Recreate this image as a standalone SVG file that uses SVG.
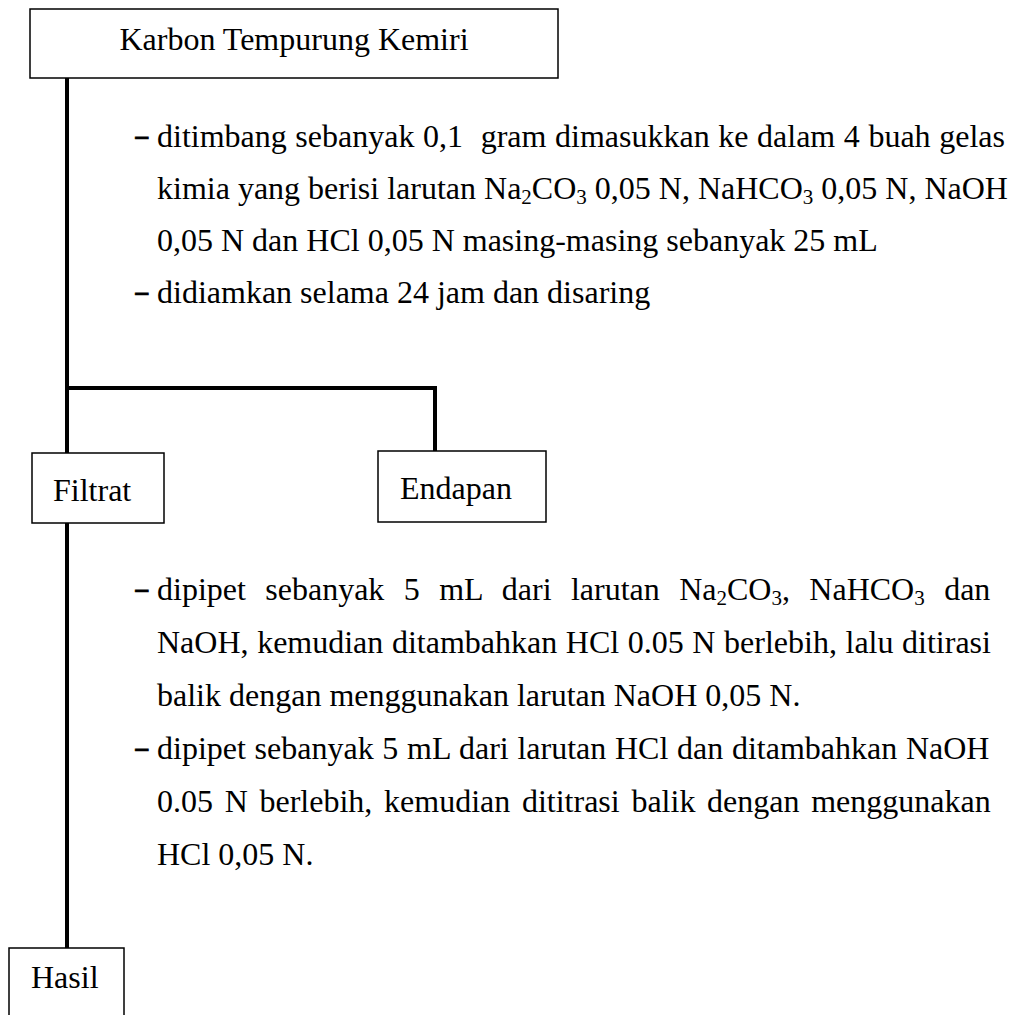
<svg xmlns="http://www.w3.org/2000/svg" width="1018" height="1015" viewBox="0 0 1018 1015">
<style>
.box{fill:#fff;stroke:#000;stroke-width:1.5}
.lbl{font-family:"Liberation Serif","Times New Roman",serif;font-size:32px;fill:#000}
.body{font-family:"Liberation Serif","Times New Roman",serif;font-size:32px;fill:#000}
.dash{font-family:"Liberation Serif","Times New Roman",serif;font-size:28px;font-weight:bold;fill:#000;stroke:#000;stroke-width:0.8}
.sub{font-size:21px}
.conn{fill:none;stroke:#000;stroke-width:4}
</style>
<rect width="1018" height="1015" fill="#fff"/>
<g id="connectors">
<path class="conn" d="M67 77 V453"/>
<path class="conn" d="M67 388 H435 V451"/>
<path class="conn" d="M67 523 V948"/>
</g>
<g id="node-karbon">
<rect class="box" x="30" y="9" width="528" height="69"/>
<text class="lbl" x="294" y="50" text-anchor="middle">Karbon Tempurung Kemiri</text>
</g>
<g id="node-filtrat">
<rect class="box" x="32" y="453" width="132" height="70"/>
<text class="lbl" x="53" y="501">Filtrat</text>
</g>
<g id="node-endapan">
<rect class="box" x="378" y="451" width="168" height="71"/>
<text class="lbl" x="400" y="499">Endapan</text>
</g>
<g id="node-hasil">
<rect class="box" x="9" y="948" width="115" height="80"/>
<text class="lbl" x="31" y="988">Hasil</text>
</g>
<g id="step1">
<text class="dash" x="134" y="147">−</text>
<text class="body" x="157" y="147" word-spacing="0.6">ditimbang sebanyak 0,1 <tspan dx="9">gram dimasukkan ke dalam 4 buah gelas</tspan></text>
<text class="body" x="157" y="199">kimia yang berisi larutan Na<tspan class="sub" dy="5">2</tspan><tspan dy="-5">CO</tspan><tspan class="sub" dy="5">3</tspan><tspan dy="-5"> 0,05 N, NaHCO</tspan><tspan class="sub" dy="5">3</tspan><tspan dy="-5"> 0,05 N, NaOH</tspan></text>
<text class="body" x="157" y="251">0,05 N dan HCl 0,05 N masing-masing sebanyak 25 mL</text>
<text class="dash" x="134" y="303">−</text>
<text class="body" x="157" y="303">didiamkan selama 24 jam dan disaring</text>
</g>
<g id="step2">
<text class="dash" x="134" y="600">−</text>
<text class="body" x="157" y="600" word-spacing="11.4">dipipet sebanyak 5 mL dari larutan Na<tspan class="sub" dy="5">2</tspan><tspan dy="-5">CO</tspan><tspan class="sub" dy="5">3</tspan><tspan dy="-5">, NaHCO</tspan><tspan class="sub" dy="5">3</tspan><tspan dy="-5"> dan</tspan></text>
<text class="body" x="157" y="653" word-spacing="0.6">NaOH, kemudian ditambahkan HCl 0.05 N berlebih, lalu ditirasi</text>
<text class="body" x="157" y="706">balik dengan menggunakan larutan NaOH 0,05 N.</text>
<text class="dash" x="134" y="759">−</text>
<text class="body" x="157" y="759" word-spacing="0.7">dipipet sebanyak 5 mL dari larutan HCl dan ditambahkan NaOH</text>
<text class="body" x="157" y="812" word-spacing="3.7">0.05 N berlebih, kemudian dititrasi balik dengan menggunakan</text>
<text class="body" x="157" y="865">HCl 0,05 N.</text>
</g>
</svg>
